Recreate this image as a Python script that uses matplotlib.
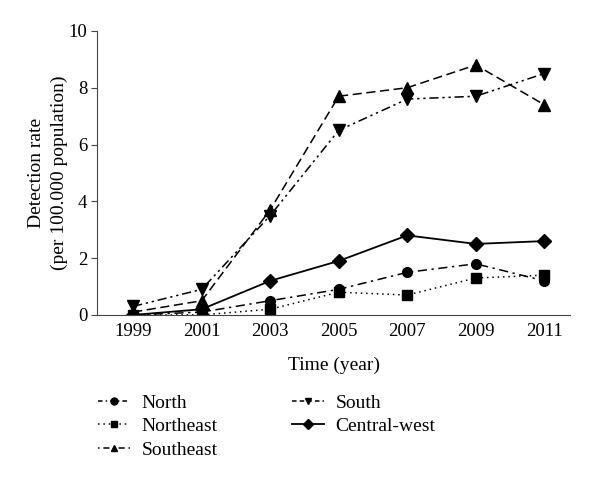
import matplotlib.pyplot as plt
from matplotlib.lines import Line2D

# Data
years = [1999, 2001, 2003, 2005, 2007, 2009, 2011]
north = [0.0, 0.1, 0.5, 0.9, 1.5, 1.8, 1.2]
northeast = [0.0, 0.0, 0.2, 0.8, 0.7, 1.3, 1.4]
southeast = [0.1, 0.5, 3.7, 7.7, 8.0, 8.8, 7.4]
south = [0.3, 0.9, 3.5, 6.5, 7.6, 7.7, 8.5]
central_west = [0.0, 0.2, 1.2, 1.9, 2.8, 2.5, 2.6]
region_names = ['North', 'Northeast', 'Southeast', 'South', 'Central-west']

serif = ['Liberation Serif', 'DejaVu Serif']

fig = plt.figure(figsize=(6.0, 4.83), dpi=100)
ax = fig.add_axes([0.162, 0.348, 0.788, 0.588])

# line styles as drawn in the plot area
ax.plot(years, north, color='black', lw=1.1, ls=(0, (6, 3, 1.5, 3)), marker='o', ms=7)
ax.plot(years, northeast, color='black', lw=1.1, ls=(0, (1, 2.5)), marker='s', ms=7)
ax.plot(years, southeast, color='black', lw=1.1, ls=(0, (6, 3)), marker='^', ms=8)
ax.plot(years, south, color='black', lw=1.1, ls=(0, (6, 2.5, 1.5, 2.5, 1.5, 2.5)), marker='v', ms=8)
ax.plot(years, central_west, color='black', lw=1.3, ls='-', marker='D', ms=7)

ax.set_xlim(1997.95, 2011.75)
ax.set_ylim(0, 10)
ax.set_xticks(years)
ax.set_yticks([0, 2, 4, 6, 8, 10])
ax.spines['top'].set_visible(False)
ax.spines['right'].set_visible(False)
ax.spines['left'].set_color('#444444')
ax.spines['bottom'].set_color('#444444')
ax.tick_params(axis='x', length=0, pad=6)
ax.tick_params(axis='y', length=4, direction='out', pad=3, color='#444444')
for lab in ax.get_xticklabels() + ax.get_yticklabels():
    lab.set_family(serif)
    lab.set_fontsize(13.5)

ax.set_xlabel('Time (year)', family=serif, fontsize=14, labelpad=12)
ax.set_ylabel('Detection rate\n(per 100.000 population)', family=serif, fontsize=14,
              labelpad=0.5, linespacing=1.45)

# legend handles styled like the reference legend
handles = [
    Line2D([], [], color='black', lw=1.1, ls=(0, (3, 2, 1, 2)), marker='o', ms=5),
    Line2D([], [], color='black', lw=1.1, ls=(0, (1, 2.5)), marker='s', ms=5),
    Line2D([], [], color='black', lw=1.1, ls=(0, (1, 2.5, 4, 2.5)), marker='^', ms=5),
    Line2D([], [], color='black', lw=1.1, ls=(0, (3, 2)), marker='v', ms=5),
    Line2D([], [], color='black', lw=1.3, ls='-', marker='D', ms=5),
]
fig.legend(handles, region_names, loc='upper left', bbox_to_anchor=(0.15, 0.2),
           ncol=2, frameon=False, handlelength=1.65, handletextpad=0.6,
           columnspacing=3.8, labelspacing=0.3, borderaxespad=0,
           prop={'family': serif, 'size': 14})

fig.savefig('out.png', dpi=100)
